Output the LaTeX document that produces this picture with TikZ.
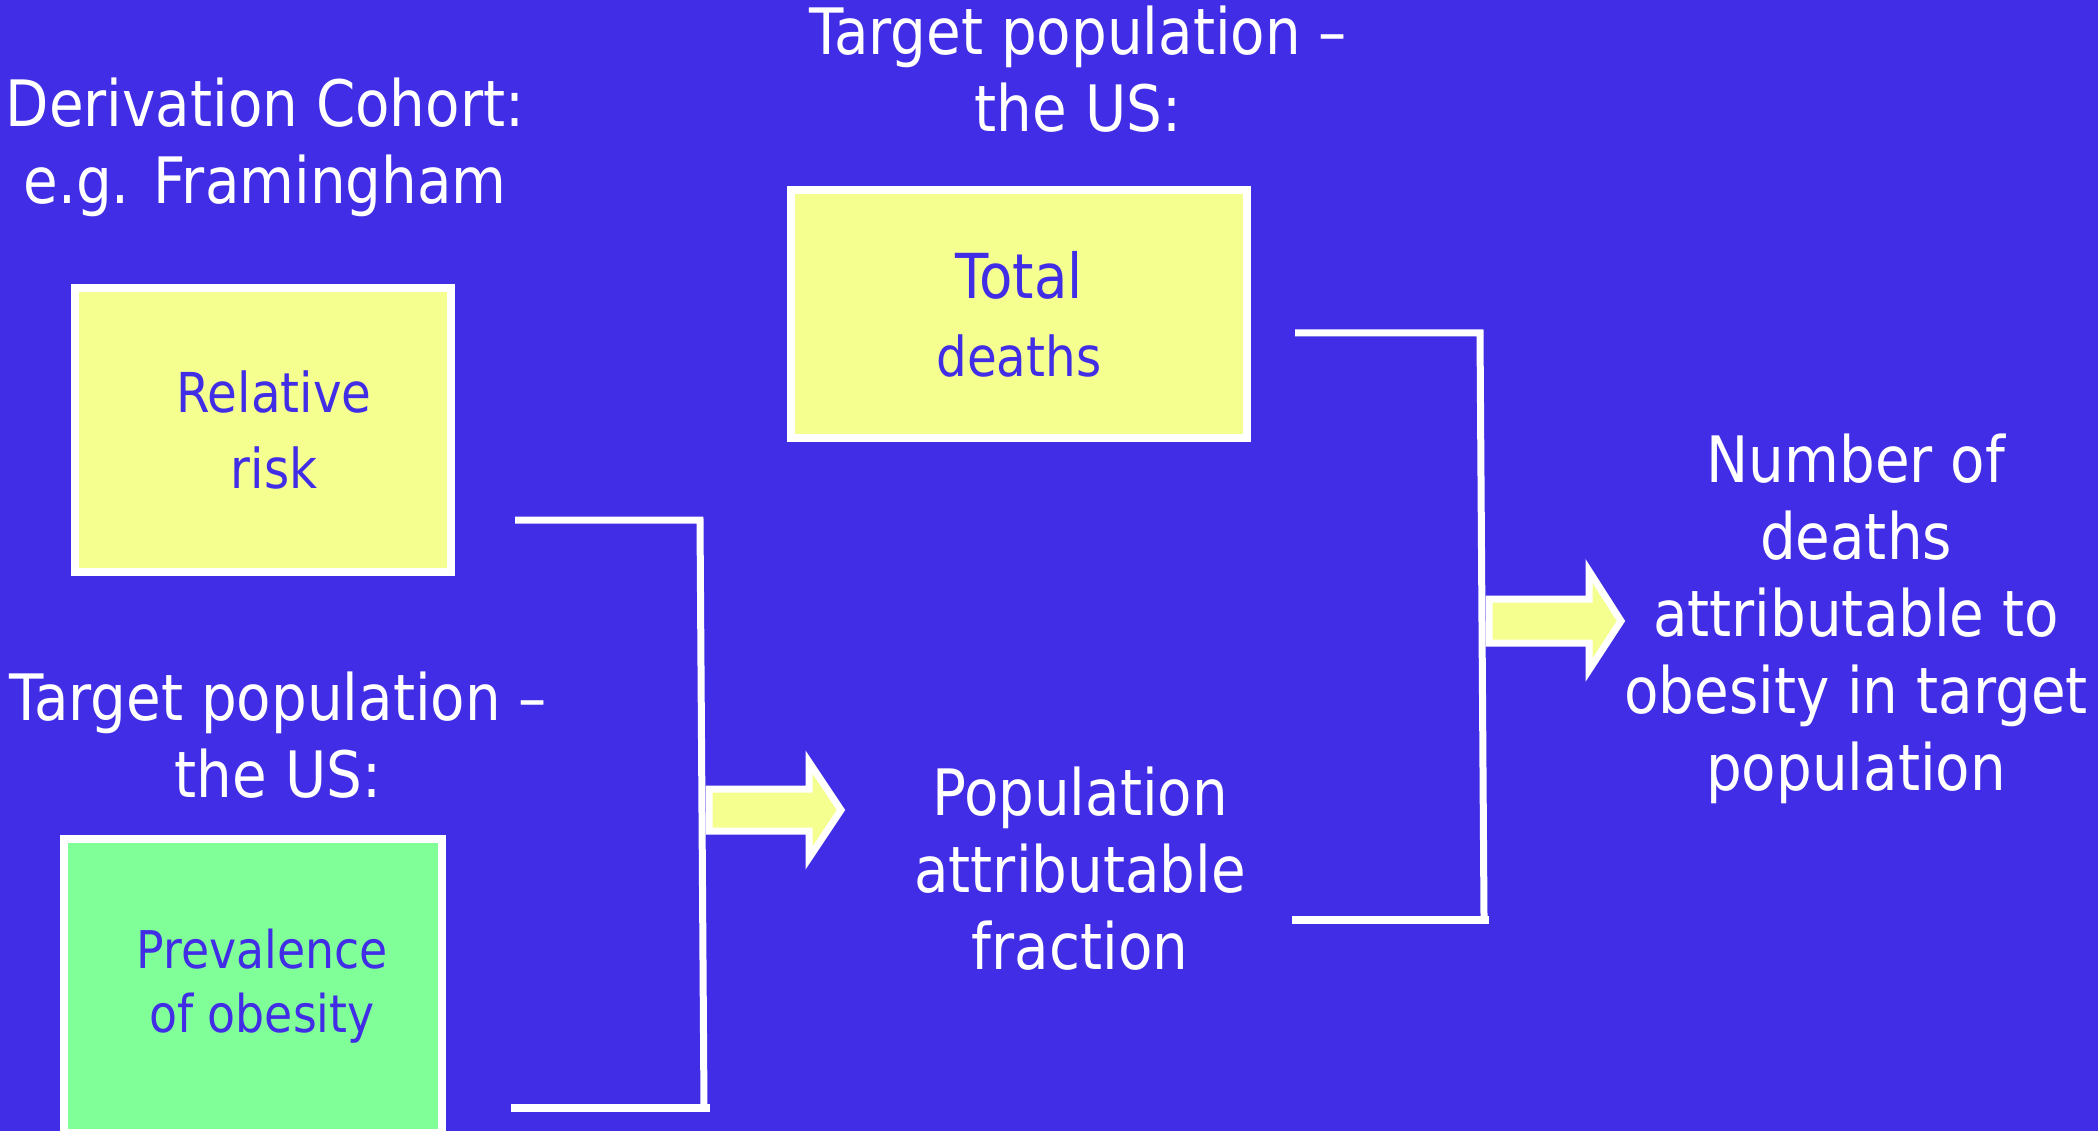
\documentclass[tikz,border=0pt]{standalone}
\usepackage{fontspec}
\setmainfont{DejaVu Sans}[FakeStretch=0.88]
\definecolor{bg}{RGB}{65,45,230}
\definecolor{yel}{RGB}{245,255,143}
\definecolor{grn}{RGB}{128,255,153}
\begin{document}
\begin{tikzpicture}[x=1pt,y=-1pt,
  lbl/.style={text=white, align=center, font=\fontsize{64}{77}\selectfont, inner sep=0pt},
  box/.style={draw=white, line width=8pt, text=bg, align=center, inner sep=0pt},
  brk/.style={draw=white, line width=7pt},
  blk/.style={draw=white, fill=yel, line width=7pt, line join=miter}]
\fill[bg] (0,0) rectangle (2098,1131);
\useasboundingbox (0,0) rectangle (2098,1131);
\clip (0,0) rectangle (2098,1131);

% headings
\node[lbl] (deriv) at (265,147) {Derivation Cohort:\\e.g. Framingham};
\node[lbl] (ttop) at (1078,69) {Target population –\\the US:};
\node[lbl] (tleft) at (278,735) {Target population –\\the US:};

% boxes
\node[box, fill=yel, minimum width=376pt, minimum height=283pt,
      font=\fontsize{55}{76}\selectfont] (rr) at (263,430) {\hspace*{22pt}Relative\\\hspace*{22pt}risk};
\node[box, fill=yel, minimum width=456pt, minimum height=248pt,
      font=\fontsize{55}{78}\selectfont] (td) at (1019,314)
  {{\fontsize{62}{78}\selectfont Total}\\deaths};
\node[box, fill=grn, minimum width=378pt, minimum height=294pt,
      font=\fontsize{52}{64}\selectfont] (prev) at (253,986) {\hspace*{18pt}Prevalence\\\hspace*{18pt}of obesity};

% results
\node[lbl] (paf) at (1080,869) {Population\\attributable\\fraction};
\node[lbl] (num) at (1856,619) {Number of\\deaths\\attributable to\\obesity in target\\population};

% bracket 1
\coordinate (b1tl) at (515,520);
\coordinate (b1tr) at (700,520);
\coordinate (b1br) at (704,1108);
\coordinate (b1bl) at (511,1108);
\coordinate (b1be) at (710,1108);
\draw[brk] (b1tl) -- (b1tr) -- (b1br);
\draw[brk, line width=8pt] (b1bl) -- (b1be);

% bracket 2
\coordinate (b2tl) at (1295,333);
\coordinate (b2tr) at (1480,333);
\coordinate (b2br) at (1484,916);
\coordinate (b2bl) at (1292,920);
\coordinate (b2be) at (1489,920);
\draw[brk] (b2tl) -- (b2tr) -- (b2br);
\draw[brk, line width=8pt] (b2bl) -- (b2be);

% block arrows
\draw[blk] (709,789) -- (809,789) -- (809,762) -- (841,810) -- (809,858) -- (809,831) -- (709,831) -- cycle;
\draw[blk] (1489,599) -- (1589,599) -- (1589,571) -- (1621,621) -- (1589,670) -- (1589,643) -- (1489,643) -- cycle;
\end{tikzpicture}
\end{document}
